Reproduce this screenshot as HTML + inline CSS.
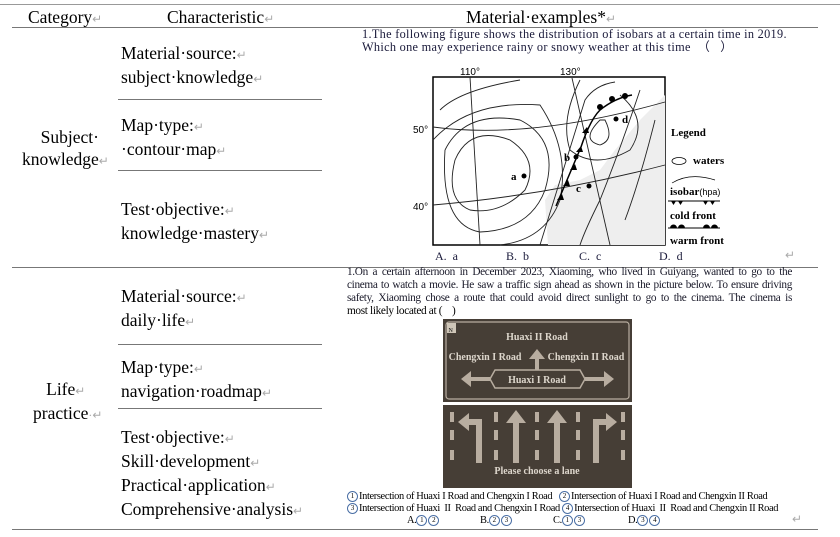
<!DOCTYPE html>
<html><head><meta charset="utf-8"><style>
body{margin:0;width:840px;height:537px;background:#fff;position:relative;overflow:hidden;font-family:"Liberation Serif",serif;color:#000}
.a{position:absolute;white-space:nowrap}
.L{font-size:17.5px;line-height:22px}
.hl{position:absolute;height:1px;background:#777}
.m{color:#aaa;font-size:12px}
.q{font-size:12.3px;line-height:13px;color:#1a1a3a}
.s{font-size:10.4px;line-height:12.5px;letter-spacing:-0.35px}
.j{position:absolute;left:347px;width:445px;font-size:11.3px;letter-spacing:-0.35px;text-align:justify;text-align-last:justify;white-space:nowrap;color:#1a1a2a;line-height:13px}
.c{display:inline-block;width:9px;height:9px;border:1px solid #4a6fa5;border-radius:50%;font-size:7px;line-height:9px;text-align:center;vertical-align:1px;margin-right:1px;letter-spacing:0}
</style></head><body>
<div class="hl" style="left:0;top:4px;width:840px;height:1px;background:#999"></div>
<div class="hl" style="left:12px;top:27px;width:806px"></div>
<div class="hl" style="left:12px;top:267px;width:806px"></div>
<div class="hl" style="left:12px;top:529px;width:806px"></div>
<div class="hl" style="left:118px;top:99px;width:204px"></div>
<div class="hl" style="left:118px;top:170px;width:204px"></div>
<div class="hl" style="left:118px;top:344px;width:204px"></div>
<div class="hl" style="left:118px;top:408px;width:204px"></div>

<div class="a L" style="left:28px;top:6px">Category<span class="m">↵</span></div>
<div class="a L" style="left:167px;top:6px">Characteristic<span class="m">↵</span></div>
<div class="a L" style="left:466px;top:6px">Material·examples*<span class="m">↵</span></div>

<div class="a L" style="left:121px;top:42px">Material·source:<span class="m">↵</span><br>subject·knowledge<span class="m">↵</span></div>
<div class="a L" style="left:121px;top:114px">Map·type:<span class="m">↵</span><br>·contour·map<span class="m">↵</span></div>
<div class="a L" style="left:121px;top:198px">Test·objective:<span class="m">↵</span><br>knowledge·mastery<span class="m">↵</span></div>
<div class="a L" style="left:22px;top:126px;text-align:center">&nbsp;&nbsp;Subject·<br>knowledge<span class="m">↵</span></div>

<div class="a L" style="left:121px;top:285px">Material·source:<span class="m">↵</span><br>daily·life<span class="m">↵</span></div>
<div class="a L" style="left:121px;top:356px">Map·type:<span class="m">↵</span><br>navigation·roadmap<span class="m">↵</span></div>
<div class="a L" style="left:121px;top:426px">Test·objective:<span class="m">↵</span><br>Skill·development<span class="m">↵</span><br>Practical·application<span class="m">↵</span><br>Comprehensive·analysis<span class="m">↵</span></div>
<div class="a L" style="left:33px;top:378px">&nbsp;&nbsp;&nbsp;Life<span class="m">↵</span><br>practice<span class="m">·↵</span></div>

<div class="a q" style="left:362px;top:28px;letter-spacing:0.3px">1.The following figure shows the distribution of isobars at a certain time in 2019.<br>Which one may experience rainy or snowy weather at this time &nbsp;（ &nbsp;&nbsp;）</div>

<svg class="a" style="left:400px;top:62px" width="340" height="200" viewBox="400 62 340 200">
<rect x="433" y="77" width="232" height="168" fill="#fff" stroke="#000" stroke-width="1.5"/>
<path d="M548 245 L545 200 L555 185 L580 180 L600 170 L615 150 L640 120 L665 95 L665 245Z" fill="#eee"/>
<g fill="none" stroke="#222" stroke-width="0.9">
<path d="M433 127 Q530 140 665 102"/>
<path d="M433 205 Q550 195 665 165"/>
<path d="M470 77 L480 245"/>
<path d="M572 78 L610 245"/>
<path d="M440 110 Q460 90 520 80"/>
<path d="M455 160 Q470 125 510 140 Q540 160 525 190 Q500 215 470 210 Q445 200 455 160Z"/>
<path d="M445 150 Q465 110 520 120 Q560 140 545 190 Q530 230 480 232 Q440 225 445 150"/>
<path d="M433 140 Q470 100 540 105 Q570 150 560 200 Q545 240 500 245"/>
<path d="M580 80 Q560 120 570 150 Q595 170 630 150 Q650 120 620 95"/>
<path d="M600 120 Q580 140 600 145 Q615 140 605 120Z"/>
<path d="M640 90 Q620 150 600 200 Q585 230 580 245"/>
<path d="M655 120 Q640 180 625 220"/>
<path d="M540 245 L585 100 Q595 85 615 82"/>
</g>
<path d="M556 206 L581 147 Q590 120 600 110 Q615 98 632 95" fill="none" stroke="#000" stroke-width="1.5"/>
<g fill="#000"><path d="M557 200l5 -6l2 6z"/><path d="M563 186l5-6l2 6z"/><path d="M570 170l5-6l2 6z"/><path d="M576 152l5-6l2 6z"/><path d="M582 133l5-6l2 6z"/>
<circle cx="600" cy="107" r="3"/><circle cx="612" cy="99" r="3"/><circle cx="625" cy="96" r="3"/>
<circle cx="524" cy="176" r="2.5"/><circle cx="576" cy="157" r="2.5"/><circle cx="589" cy="186" r="2.5"/><circle cx="616" cy="119" r="2.5"/></g>
<g font-family="Liberation Serif" font-weight="bold" font-size="11" fill="#000">
<text x="511" y="180">a</text><text x="564" y="161">b</text><text x="576" y="192">c</text><text x="622" y="123">d</text></g>
<g font-family="Liberation Sans" font-size="10" fill="#000"><text x="460" y="75">110°</text><text x="560" y="75">130°</text><text x="413" y="133">50°</text><text x="413" y="210">40°</text></g>
<g font-family="Liberation Serif" font-weight="bold" font-size="11" fill="#000">
<text x="671" y="136">Legend</text><text x="693" y="164">waters</text><text x="670" y="195">isobar<tspan font-weight="normal" font-family="Liberation Sans" font-size="9">(hpa)</tspan></text>
<text x="670" y="219">cold front</text><text x="670" y="244">warm front</text></g>
<ellipse cx="679" cy="161" rx="7" ry="3.5" fill="none" stroke="#000" stroke-width="0.8"/>
<path d="M672 183 Q690 172 715 180" fill="none" stroke="#000" stroke-width="0.7"/>
<line x1="668" y1="201" x2="720" y2="201" stroke="#000"/><line x1="668" y1="228" x2="720" y2="228" stroke="#000"/>
<g fill="#000"><path d="M671 201h5l-2.5 4z"/><path d="M678 201h5l-2.5 4z"/><path d="M703 201h5l-2.5 4z"/><path d="M710 201h5l-2.5 4z"/>
<path d="M670 228a3 3 0 0 1 7 0z"/><path d="M678 228a3 3 0 0 1 7 0z"/><path d="M703 228a3 3 0 0 1 7 0z"/><path d="M711 228a3 3 0 0 1 7 0z"/></g>
</svg>
<div class="a q" style="left:435px;top:250px;font-size:12px">A. &nbsp;a</div>
<div class="a q" style="left:506px;top:250px;font-size:12px">B. &nbsp;b</div>
<div class="a q" style="left:579px;top:250px;font-size:12px">C. &nbsp;c</div>
<div class="a q" style="left:659px;top:250px;font-size:12px">D. &nbsp;d</div>
<div class="a m" style="left:785px;top:248px">↵</div>

<div class="j" style="top:266px">1.On a certain afternoon in December 2023, Xiaoming, who lived in Guiyang, wanted to go to the</div>
<div class="j" style="top:279px">cinema to watch a movie. He saw a traffic sign ahead as shown in the picture below. To ensure driving</div>
<div class="j" style="top:292px">safety, Xiaoming chose a route that could avoid direct sunlight to go to the cinema. The cinema is</div>
<div class="a s" style="left:347px;top:305px;font-size:11.3px;letter-spacing:-0.35px">most likely located at (&nbsp;&nbsp;&nbsp;&nbsp;)</div>

<svg class="a" style="left:443px;top:319px" width="189" height="169" viewBox="0 0 189 169">
<rect width="189" height="83" fill="#463e36"/>
<rect x="3" y="3" width="183" height="77" rx="3" fill="none" stroke="#b8ada0" stroke-width="1.2"/>
<rect x="4" y="4" width="9" height="10" fill="#cfc6b8"/><text x="5.5" y="13" font-size="6" fill="#000" font-family="Liberation Serif">N</text>
<path d="M47 60 L52 51 H137 L142 60 L137 69 H52Z" fill="none" stroke="#b8ada0" stroke-width="1.5"/>
<path d="M47 60 H24" stroke="#b8ada0" stroke-width="4"/><path d="M18 60 L28 52 L28 68Z" fill="#b8ada0"/>
<path d="M142 60 H164" stroke="#b8ada0" stroke-width="4"/><path d="M171 60 L161 52 L161 68Z" fill="#b8ada0"/>
<path d="M94 51 V38" stroke="#b8ada0" stroke-width="4"/><path d="M94 30 L86 40 H102Z" fill="#b8ada0"/>
<g font-family="Liberation Serif" font-weight="bold" fill="#ddd6cc" font-size="10" text-anchor="middle">
<text x="94" y="21">Huaxi II Road</text><text x="42" y="41">Chengxin I Road</text><text x="143" y="41">Chengxin II Road</text><text x="94" y="64">Huaxi I Road</text></g>
<rect y="86" width="189" height="83" fill="#463e36"/>
<g fill="#b8ada0">
<rect x="7" y="93" width="4" height="10"/><rect x="7" y="111" width="4" height="10"/><rect x="7" y="131" width="4" height="10"/>
<rect x="51" y="93" width="4" height="10"/><rect x="51" y="111" width="4" height="10"/><rect x="51" y="131" width="4" height="10"/>
<rect x="92" y="93" width="4" height="10"/><rect x="92" y="111" width="4" height="10"/><rect x="92" y="131" width="4" height="10"/>
<rect x="133" y="93" width="4" height="10"/><rect x="133" y="111" width="4" height="10"/><rect x="133" y="131" width="4" height="10"/>
<rect x="178" y="93" width="4" height="10"/><rect x="178" y="111" width="4" height="10"/><rect x="178" y="131" width="4" height="10"/>
<path d="M73 91 L63 104 H70 V144 H76 V104 H83Z"/><path d="M114 91 L104 104 H111 V144 H117 V104 H124Z"/>
</g>
<path d="M36 144 V103 H25" fill="none" stroke="#b8ada0" stroke-width="6"/><path d="M15 103 L26 94 V112Z" fill="#b8ada0"/>
<path d="M153 144 V103 H164" fill="none" stroke="#b8ada0" stroke-width="6"/><path d="M174 103 L163 94 V112Z" fill="#b8ada0"/>
<text x="94" y="155" font-family="Liberation Serif" font-weight="bold" fill="#ddd6cc" font-size="10" text-anchor="middle">Please choose a lane</text>
</svg>

<div class="a s" style="left:347px;top:491px"><span class="c">1</span>Intersection of Huaxi I Road and Chengxin I Road &nbsp;&nbsp;<span class="c">2</span>Intersection of Huaxi I Road and Chengxin II Road</div>
<div class="a s" style="left:347px;top:503px"><span class="c">3</span>Intersection of Huaxi &nbsp;II &nbsp;Road and Chengxin I Road <span class="c">4</span>Intersection of Huaxi &nbsp;II &nbsp;Road and Chengxin II Road</div>
<div class="a s" style="left:407px;top:515px">A.<span class="c">1</span><span class="c">2</span></div>
<div class="a s" style="left:480px;top:515px">B.<span class="c">2</span><span class="c">3</span></div>
<div class="a s" style="left:553px;top:515px">C.<span class="c">1</span><span class="c">3</span></div>
<div class="a s" style="left:628px;top:515px">D.<span class="c">3</span><span class="c">4</span></div>
<div class="a m" style="left:792px;top:512px">↵</div>
</body></html>
